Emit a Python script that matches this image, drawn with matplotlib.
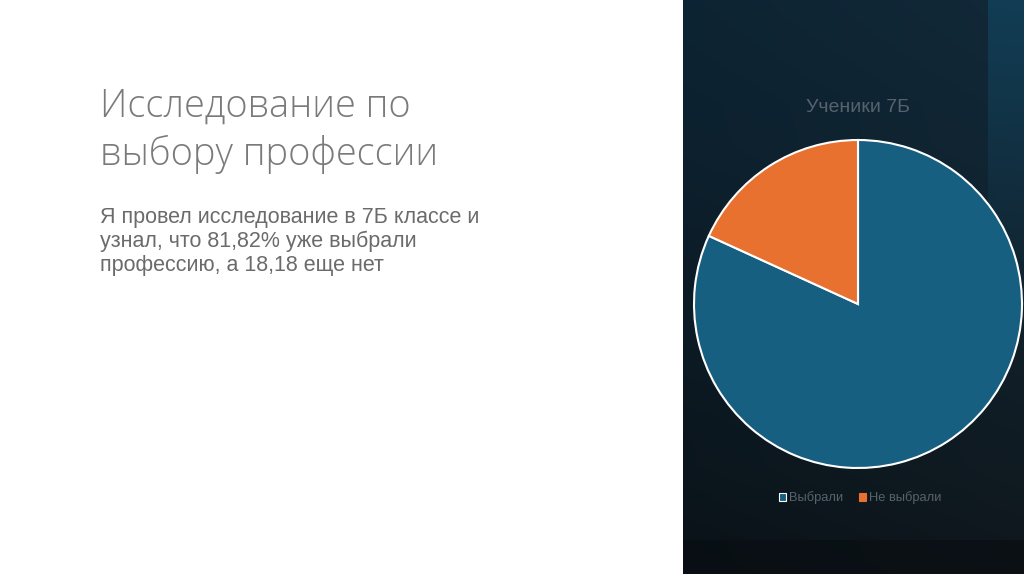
import numpy as np
import matplotlib.pyplot as plt
from matplotlib.patches import Patch

labels = ["Выбрали", "Не выбрали"]
shares = [81.82, 18.18]
colors = ["#175f81", "#e8712f"]
chart_title = "Ученики 7Б"
slide_title = ["Исследование по", "выбору профессии"]
slide_body = ["Я провел исследование в 7Б классе и",
              "узнал, что 81,82% уже выбрали",
              "профессию, а 18,18 еще нет"]

W, H = 1024, 574
fig = plt.figure(figsize=(W / 100, H / 100), dpi=100)
fig.patch.set_facecolor("white")

# dark panel on the right with a vertical gradient
x0 = 683
panel = fig.add_axes([x0 / W, 0, (W - x0) / W, 1])
yy = np.linspace(0, 1, 300)[:, None]
xx = np.linspace(0, 1, 341)[None, :]
top = np.array([0.05, 0.14, 0.20])
bot = np.array([0.04, 0.07, 0.09])
t = yy ** 1.2
img = top * (1 - t[..., None]) + bot * t[..., None] + 0.02 * xx[..., None]
# lighter strip at the right edge, fading downwards
band = ((xx > (988 - x0) / (W - x0)) * np.clip(1 - yy / 0.55, 0, 1))[..., None]
img = img * (1 - 0.6 * band) + np.array([0.07, 0.29, 0.40]) * 0.6 * band
img = np.clip(img, 0, 1)
panel.imshow(img, aspect="auto", extent=[0, 1, 0, 1])
panel.add_patch(plt.Rectangle((0, 0), 1, 0.06, color="#080c10", alpha=0.55, lw=0))
panel.set_xlim(0, 1)
panel.set_ylim(0, 1)
panel.axis("off")

# pie
cx, cy, r = 858, 304, 164
pad = 1.04
ax = fig.add_axes([(cx - r * pad) / W, (H - cy - r * pad) / H, 2 * r * pad / W, 2 * r * pad / H])
ax.pie(shares, colors=colors, startangle=90, counterclock=False,
       wedgeprops=dict(edgecolor="white", linewidth=1.5))
ax.set_xlim(-pad, pad)
ax.set_ylim(-pad, pad)
ax.set_facecolor("none")
ax.axis("off")

fig.text(cx / W, 1 - 108 / H, chart_title, ha="center", va="center",
         fontsize=14, color="#56626c", family="Liberation Sans")

handles = [Patch(facecolor=c, edgecolor="white" if i == 0 else c, linewidth=0.8)
           for i, c in enumerate(colors)]
leg = fig.legend(handles, labels, loc="center", bbox_to_anchor=((cx + 2) / W, 1 - 498 / H),
                 ncol=2, frameon=False, handlelength=0.6, handleheight=0.6,
                 handletextpad=0.2, columnspacing=1.2,
                 prop=dict(family="Liberation Sans", size=9.3))
for txt in leg.get_texts():
    txt.set_color("#56626c")

# slide text
for i, line in enumerate(slide_title):
    fig.text(100 / W, 1 - (117 + 48 * i) / H, line, ha="left", va="baseline",
             fontsize=27.3, color="#7a7a7a", family="Open Sans", fontweight="light")
for i, line in enumerate(slide_body):
    fig.text(100 / W, 1 - (223 + 24 * i) / H, line, ha="left", va="baseline",
             fontsize=15.5, color="#6b6b6b", family="Liberation Sans")

fig.savefig("out.png", dpi=100)
